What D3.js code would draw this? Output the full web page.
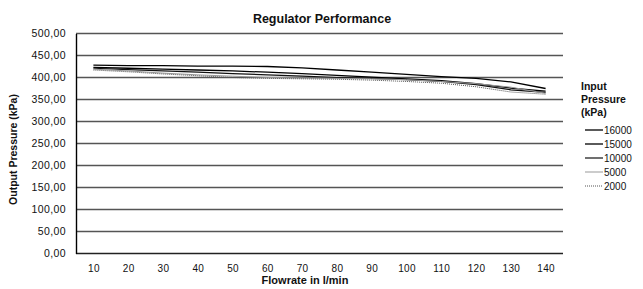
<!DOCTYPE html>
<html>
<head>
<meta charset="utf-8">
<script src="https://cdn.jsdelivr.net/npm/d3@7"></script>
<style>
  body { margin: 0; background: #fff; }
  svg text { font-family: "Liberation Sans", Arial, sans-serif; fill: #111; }
</style>
</head>
<body>
<div class="container"></div>
<script>
const flowrates = [10, 20, 30, 40, 50, 60, 70, 80, 90, 100, 110, 120, 130, 140]
const seriesNames = ['16000', '15000', '10000', '5000', '2000']
const p16000 = [428, 427, 427, 426, 426, 425, 422, 417, 412, 407, 402, 398, 390, 375]
const p15000 = [423, 421, 419, 417, 415, 412, 409, 405, 401, 397, 393, 386, 376, 369]
const p10000 = [421, 418, 415, 412, 409, 406, 403, 400, 398, 395, 391, 384, 372, 366]
const p5000 = [419, 415, 410, 406, 403, 400, 399, 398, 397, 395, 391, 386, 378, 364]
const p2000 = [417, 413, 408, 404, 400, 398, 397, 396, 394, 391, 387, 379, 367, 362]
const yTicks = [0, 50, 100, 150, 200, 250, 300, 350, 400, 450, 500]

const seriesValues = [p16000, p15000, p10000, p5000, p2000]
const seriesStyle = [
  {color: '#000', width: 1.3, dash: null},
  {color: '#000', width: 1.3, dash: null},
  {color: '#111', width: 1.2, dash: null},
  {color: '#999', width: 1.0, dash: null},
  {color: '#555', width: 1.0, dash: '1,1'}
]

const width = 643
const height = 289
const margin = {left: 76, right: 80, top: 33.5, bottom: 35.5}

const svg = d3.select('.container')
  .append('svg')
  .attr('width', width)
  .attr('height', height)

const x = d3.scalePoint()
  .domain(flowrates)
  .range([margin.left, width - margin.right])
  .padding(0.5)

const y = d3.scaleLinear()
  .domain([0, 500])
  .range([height - margin.bottom, margin.top])

// gridlines
svg.append('g')
  .selectAll('line')
  .data(yTicks)
  .join('line')
    .attr('x1', margin.left)
    .attr('x2', width - margin.right)
    .attr('y1', d => y(d))
    .attr('y2', d => y(d))
    .attr('stroke', d => d === 0 ? '#222' : '#555')
    .attr('stroke-width', 1.4)

// y axis
const yAxis = svg.append('g')
  .attr('transform', `translate(${margin.left},0)`)
  .call(d3.axisLeft(y).tickValues(yTicks).tickSize(0).tickPadding(10)
    .tickFormat(d => d3.format('.2f')(d).replace('.', ',')))
yAxis.select('.domain').attr('stroke', '#000').attr('stroke-width', 1.4)
yAxis.selectAll('text').style('font-size', '10.5px').style('letter-spacing', '0.4px').attr('fill', '#111')

// x axis
const xAxis = svg.append('g')
  .attr('transform', `translate(0,${height - margin.bottom})`)
  .call(d3.axisBottom(x).tickSize(0).tickPadding(11))
xAxis.select('.domain').remove()
xAxis.selectAll('text').style('font-size', '10px').style('letter-spacing', '0.3px').attr('fill', '#111')

const line = d3.line()
  .x((d, i) => x(flowrates[i]))
  .y(d => y(d))

svg.append('g')
  .selectAll('path')
  .data(seriesValues)
  .join('path')
    .attr('d', d => line(d))
    .attr('fill', 'none')
    .attr('stroke', (d, i) => seriesStyle[i].color)
    .attr('stroke-width', (d, i) => seriesStyle[i].width)
    .attr('stroke-dasharray', (d, i) => seriesStyle[i].dash)

// titles
svg.append('text')
  .attr('x', 322).attr('y', 23)
  .attr('text-anchor', 'middle')
  .style('font-size', '12.5px').style('font-weight', 'bold')
  .text('Regulator Performance')

svg.append('text')
  .attr('x', 305).attr('y', 284)
  .attr('text-anchor', 'middle')
  .style('font-size', '11px').style('font-weight', 'bold')
  .text('Flowrate in l/min')

svg.append('text')
  .attr('transform', `translate(17,${(margin.top + height - margin.bottom) / 2 + 6}) rotate(-90)`)
  .attr('text-anchor', 'middle')
  .style('font-size', '10.5px').style('font-weight', 'bold')
  .text('Output Pressure (kPa)')

// legend
const legend = svg.append('g').attr('transform', 'translate(581,0)')
const legendTitle = ['Input', 'Pressure', '(kPa)']
legend.selectAll('text.title')
  .data(legendTitle)
  .join('text')
    .attr('class', 'title')
    .attr('x', 0)
    .attr('y', (d, i) => 90 + i * 13)
    .style('font-size', '10.5px').style('font-weight', 'bold')
    .text(d => d)

const items = legend.selectAll('g.item')
  .data(seriesNames)
  .join('g')
    .attr('class', 'item')
    .attr('transform', (d, i) => `translate(0,${130 + i * 14})`)
items.append('line')
  .attr('x1', 4).attr('x2', 22)
  .attr('stroke', (d, i) => seriesStyle[i].color)
  .attr('stroke-width', (d, i) => seriesStyle[i].width)
  .attr('stroke-dasharray', (d, i) => seriesStyle[i].dash)
items.append('text')
  .attr('x', 23).attr('y', 3.5)
  .style('font-size', '10px')
  .text(d => d)
</script>
</body>
</html>
